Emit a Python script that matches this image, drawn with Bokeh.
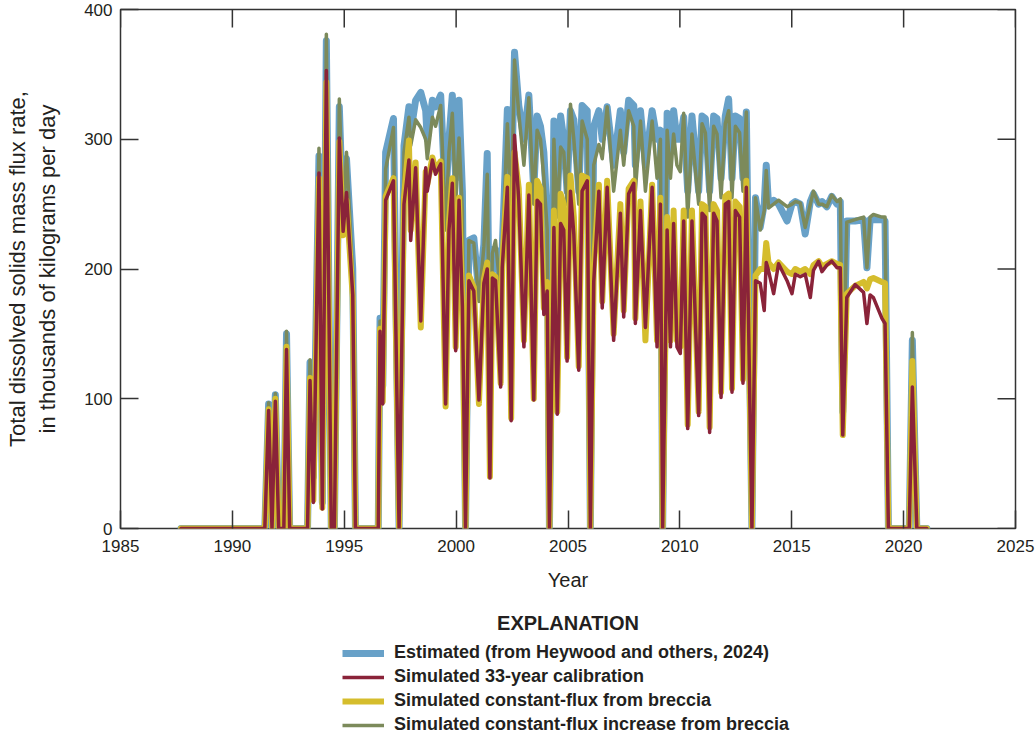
from bokeh.plotting import figure
from bokeh.models import Range1d, Legend, LegendItem, Label, FixedTicker
from bokeh.layouts import column
from bokeh.embed import file_html
from bokeh.resources import INLINE

# decimal year, estimated, simulated calibration, constant-flux, constant-flux increase
years = [1987.70, 1991.45, 1991.62, 1991.77, 1991.92, 1992.07, 1992.30, 1992.42, 1992.56, 1993.36,
         1993.47, 1993.62, 1993.87, 1994.02, 1994.20, 1994.42, 1994.56, 1994.78, 1994.95, 1995.10,
         1995.38, 1995.50, 1996.52, 1996.60, 1996.72, 1996.85, 1997.20, 1997.45, 1997.67, 1997.89,
         1997.97, 1998.19, 1998.42, 1998.64, 1998.71, 1998.94, 1999.08, 1999.31, 1999.53, 1999.68,
         1999.83, 1999.98, 2000.13, 2000.28, 2000.42, 2000.57, 2000.79, 2001.02, 2001.24, 2001.39,
         2001.51, 2001.62, 2001.76, 2001.99, 2002.06, 2002.29, 2002.46, 2002.61, 2002.80, 2003.03,
         2003.25, 2003.47, 2003.62, 2003.77, 2003.92, 2004.07, 2004.17, 2004.37, 2004.52, 2004.67,
         2004.81, 2004.96, 2005.11, 2005.26, 2005.48, 2005.63, 2005.86, 2006.00, 2006.15, 2006.38,
         2006.53, 2006.75, 2007.04, 2007.34, 2007.49, 2007.71, 2007.94, 2008.01, 2008.24, 2008.46,
         2008.76, 2008.98, 2009.13, 2009.23, 2009.43, 2009.58, 2009.72, 2009.87, 2010.02, 2010.17,
         2010.35, 2010.54, 2010.84, 2010.99, 2011.14, 2011.33, 2011.51, 2011.66, 2011.84, 2012.03,
         2012.18, 2012.33, 2012.48, 2012.67, 2012.82, 2012.97, 2013.22, 2013.38, 2013.59, 2013.77,
         2013.86, 2013.96, 2014.19, 2014.41, 2014.79, 2015.01, 2015.16, 2015.38, 2015.60, 2015.83,
         2015.97, 2016.20, 2016.35, 2016.57, 2016.79, 2017.02, 2017.17, 2017.28, 2017.46, 2017.83,
         2018.21, 2018.36, 2018.50, 2018.65, 2019.03, 2019.17, 2019.32, 2020.25, 2020.39, 2020.59,
         2021.04]

estimated = [0, 0, 96, 0, 103, 0, 0, 150, 0, 0,
             128, 40, 287, 20, 376, 0, 0, 325, 235, 285,
             200, 0, 0, 162, 110, 290, 316, 0, 295, 325,
             305, 330, 336, 322, 300, 330, 325, 334, 250, 300,
             334, 270, 330, 260, 0, 222, 224, 180, 219, 289,
             120, 215, 215, 190, 215, 323, 250, 367, 326, 300,
             334, 260, 318, 310, 290, 240, 0, 314, 250, 318,
             300, 260, 322, 315, 260, 326, 322, 0, 310, 322,
             300, 325, 280, 322, 290, 330, 326, 280, 322, 280,
             322, 300, 307, 0, 320, 290, 322, 300, 300, 317,
             260, 318, 260, 318, 316, 260, 318, 316, 270, 318,
             331, 270, 318, 316, 270, 321, 0, 255, 232, 250,
             280, 250, 253, 250, 237, 250, 252, 250, 227, 252,
             258, 250, 252, 248, 256, 250, 252, 90, 237, 237,
             238, 201, 238, 238, 238, 237, 0, 0, 145, 0,
             0]

calibration = [0, 0, 91, 0, 98, 0, 0, 138, 0, 0,
               114, 20, 274, 15, 353, 0, 0, 301, 229, 259,
               180, 0, 0, 152, 96, 253, 268, 0, 250, 284,
               222, 278, 160, 278, 260, 284, 273, 281, 96, 230,
               266, 137, 253, 171, 0, 191, 183, 99, 189, 200,
               39, 193, 191, 109, 201, 263, 83, 303, 253, 140,
               257, 99, 253, 250, 165, 183, 0, 232, 88, 235,
               230, 129, 260, 227, 122, 260, 268, 0, 190, 260,
               170, 263, 145, 243, 163, 258, 266, 158, 245, 155,
               263, 140, 250, 0, 230, 140, 235, 140, 135, 237,
               77, 237, 87, 243, 240, 74, 243, 237, 101, 250,
               252, 105, 245, 240, 112, 263, 0, 191, 189, 168,
               205, 199, 181, 204, 191, 181, 196, 194, 196, 178,
               199, 206, 198, 203, 206, 201, 201, 72, 178, 188,
               182, 158, 180, 178, 162, 158, 0, 0, 109, 0,
               0]

constant_flux = [0, 0, 92, 0, 100, 0, 0, 140, 0, 0,
                 116, 22, 270, 16, 344, 0, 0, 298, 226, 253,
                 178, 0, 0, 154, 98, 256, 270, 0, 255, 299,
                 230, 282, 155, 275, 265, 286, 276, 283, 94, 235,
                 270, 140, 255, 175, 0, 195, 186, 96, 192, 205,
                 40, 196, 194, 112, 204, 271, 85, 290, 262, 145,
                 265, 100, 268, 262, 170, 190, 0, 245, 90, 258,
                 250, 132, 272, 240, 125, 272, 270, 0, 200, 265,
                 175, 268, 150, 250, 168, 262, 268, 162, 252, 145,
                 265, 145, 255, 0, 240, 145, 245, 145, 140, 245,
                 80, 245, 90, 250, 248, 78, 250, 245, 105, 256,
                 258, 108, 252, 248, 115, 268, 0, 195, 200, 200,
                 220, 205, 200, 205, 198, 196, 200, 198, 200, 196,
                 203, 206, 202, 204, 206, 204, 203, 72, 181, 187,
                 190, 185, 192, 193, 190, 189, 0, 0, 129, 0,
                 0]

constant_increase = [0, 0, 97, 0, 104, 0, 0, 152, 0, 0,
                     130, 40, 293, 20, 381, 0, 0, 331, 238, 290,
                     195, 0, 0, 160, 105, 277, 309, 0, 290, 317,
                     295, 315, 309, 300, 285, 317, 310, 326, 230, 290,
                     320, 250, 301, 245, 0, 222, 220, 175, 217, 273,
                     110, 212, 222, 180, 212, 312, 240, 361, 320, 280,
                     332, 250, 307, 300, 270, 230, 0, 300, 240, 294,
                     290, 250, 327, 300, 250, 314, 300, 0, 280, 296,
                     285, 325, 260, 307, 280, 322, 310, 260, 314, 260,
                     314, 270, 300, 0, 307, 270, 304, 280, 275, 320,
                     240, 304, 250, 312, 305, 245, 310, 304, 255, 312,
                     322, 255, 310, 305, 260, 321, 0, 255, 230, 245,
                     276, 247, 250, 253, 248, 250, 252, 251, 232, 250,
                     260, 250, 250, 248, 257, 252, 254, 90, 236, 238,
                     240, 201, 240, 242, 240, 240, 0, 0, 151, 0,
                     0]

x_ticks = [1985, 1990, 1995, 2000, 2005, 2010, 2015, 2020, 2025]
y_ticks = [0, 100, 200, 300, 400]

series_labels = ["Estimated (from Heywood and others, 2024)",
                 "Simulated 33-year calibration",
                 "Simulated constant-flux from breccia",
                 "Simulated constant-flux increase from breccia"]

BLUE = "#68a1c8"
RED = "#8a2339"
YELLOW = "#d5bd2d"
GREEN = "#7c8a5b"
INK = "#231f20"
FRAME = "#333333"
FONT = "Liberation Sans"

X0, X1, Y0, Y1 = 1985, 2025, 0, 400
W = 1036
H1, H2 = 610, 130
ML, MR, MT = 120, 21, 9
MB = H1 - 528
TICK_PX = 18
WIDTHS = {"blue": 7, "green": 3.5, "yellow": 6, "red": 3.5}

p = figure(width=W, height=H1, x_range=Range1d(X0, X1), y_range=Range1d(Y0, Y1),
           output_backend="svg", toolbar_location=None,
           min_border_left=ML, min_border_right=MR, min_border_top=MT, min_border_bottom=MB)
p.outline_line_color = FRAME
p.outline_line_width = 1.5
p.xgrid.visible = False
p.ygrid.visible = False
p.background_fill_color = "white"
p.border_fill_color = "white"

style = dict(line_join="round", line_cap="round")
p.line(years, estimated, line_color=BLUE, line_width=WIDTHS["blue"], **style)
p.line(years, constant_increase, line_color=GREEN, line_width=WIDTHS["green"], **style)
p.line(years, constant_flux, line_color=YELLOW, line_width=WIDTHS["yellow"], **style)
p.line(years, calibration, line_color=RED, line_width=WIDTHS["red"], **style)

# mirrored inward ticks on the top and right edges, from the tick lists
frame_w = W - ML - MR
frame_h = H1 - MT - MB
dy = TICK_PX * (Y1 - Y0) / frame_h
dx = TICK_PX * (X1 - X0) / frame_w
p.segment(x0=x_ticks, y0=[Y1] * len(x_ticks), x1=x_ticks, y1=[Y1 - dy] * len(x_ticks),
          line_color=FRAME, line_width=1.5)
p.segment(x0=[X1] * len(y_ticks), y0=y_ticks, x1=[X1 - dx] * len(y_ticks), y1=y_ticks,
          line_color=FRAME, line_width=1.5)

def style_axis(ax, ticks):
    ax.ticker = FixedTicker(ticks=ticks)
    ax.axis_line_color = None
    ax.major_tick_in = TICK_PX
    ax.major_tick_out = 0
    ax.major_tick_line_color = FRAME
    ax.major_tick_line_width = 1.5
    ax.minor_tick_line_color = None
    ax.major_label_text_font = FONT
    ax.major_label_text_font_size = "17px"
    ax.major_label_text_color = INK
    ax.axis_label_text_font = FONT
    ax.axis_label_text_color = INK
    ax.axis_label_text_font_style = "normal"

xa = p.xaxis[0]
style_axis(xa, x_ticks)
xa.axis_label = "Year"
xa.axis_label_text_font_size = "20px"
xa.major_label_standoff = 11
xa.axis_label_standoff = 14

ya = p.yaxis[0]
style_axis(ya, y_ticks)
ya.axis_label = "Total dissolved solids mass flux rate,\nin thousands of kilograms per day"
ya.axis_label_text_font_size = "22px"
ya.major_label_standoff = 8
ya.axis_label_standoff = 21

# explanation panel: the same series are drawn here far below the visible range,
# so that only their legend samples show
LY0 = 1000
q = figure(width=W, height=H2, x_range=Range1d(X0, X1), y_range=Range1d(LY0, LY0 + H2),
           output_backend="svg", toolbar_location=None, x_axis_type=None, y_axis_type=None,
           min_border_left=ML, min_border_right=MR, min_border_top=0, min_border_bottom=0)
q.outline_line_color = None
q.background_fill_color = "white"
q.border_fill_color = "white"

q.add_layout(Label(x=(X0 + X1) / 2, y=LY0 + H2 - 12, text="EXPLANATION", text_align="center",
                   text_baseline="middle", text_font=FONT, text_font_size="20px",
                   text_font_style="bold", text_color=INK))

k_blue = q.line(years, estimated, line_color=BLUE, line_width=WIDTHS["blue"])
k_red = q.line(years, calibration, line_color=RED, line_width=WIDTHS["red"])
k_yellow = q.line(years, constant_flux, line_color=YELLOW, line_width=WIDTHS["yellow"])
k_green = q.line(years, constant_increase, line_color=GREEN, line_width=WIDTHS["green"])

items = [LegendItem(label=series_labels[0], renderers=[k_blue]),
         LegendItem(label=series_labels[1], renderers=[k_red]),
         LegendItem(label=series_labels[2], renderers=[k_yellow]),
         LegendItem(label=series_labels[3], renderers=[k_green])]
legend = Legend(items=items, location=(222, 5), orientation="vertical",
                border_line_color=None, background_fill_alpha=0,
                label_text_font=FONT, label_text_font_style="bold", label_text_font_size="18px",
                label_text_color=INK, glyph_width=42, glyph_height=20, label_height=20,
                label_standoff=10, spacing=3, padding=0, margin=0)
q.add_layout(legend, "center")

layout = column(p, q, spacing=0)
open("out.html", "w").write(file_html(layout, INLINE))
